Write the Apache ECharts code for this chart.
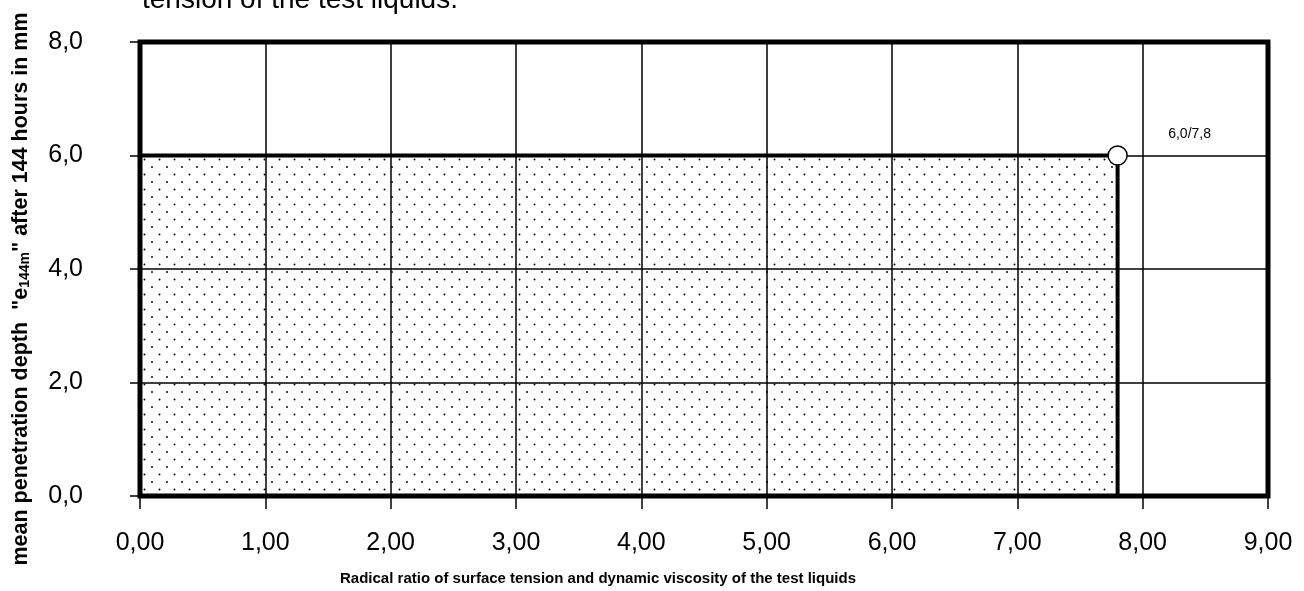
<!DOCTYPE html>
<html>
<head>
<meta charset="utf-8">
<script src="https://cdn.jsdelivr.net/npm/echarts@6/dist/echarts.min.js"></script>
<style>html,body{margin:0;padding:0;background:#fff;}#chart{width:1304px;height:591px;}</style>
</head>
<body>
<div id="chart"></div>
<script>
// ---- data ----
var regionX = [0, 7.8, 7.8];
var regionY = [6, 6, 0];
var pointX = 7.8;
var pointY = 6.0;
var pointLabel = '6,0/7,8';
var xName = 'Radical ratio of surface tension and dynamic viscosity of the test liquids';
var topText = 'tension of the test liquids.';

var FONT = 'Arial, "Liberation Sans", sans-serif';

// dotted fill pattern
var tile = document.createElement('canvas');
tile.width = 15; tile.height = 15;
var c = tile.getContext('2d');
c.fillStyle = '#000';
c.beginPath(); c.arc(2, 2, 0.95, 0, Math.PI * 2); c.fill();
c.beginPath(); c.arc(9.5, 9.5, 0.95, 0, Math.PI * 2); c.fill();

var regionData = regionX.map(function (x, i) { return [x, regionY[i]]; });

var chart = echarts.init(document.getElementById('chart'));
chart.setOption({
  backgroundColor: '#fff',
  animation: false,
  textStyle: { fontFamily: FONT },
  graphic: [{
    type: 'text', x: 142, y: 14,
    style: { text: topText, fontSize: 28, fill: '#000', fontFamily: FONT, verticalAlign: 'bottom' }
  }],
  grid: {
    left: 140, right: 36, top: 42, bottom: 88,
    show: true, borderColor: '#000', borderWidth: 5, backgroundColor: 'transparent'
  },
  xAxis: {
    type: 'value', min: 0, max: 9, interval: 1,
    name: xName, nameLocation: 'middle', nameGap: 75,
    nameTextStyle: { fontSize: 15, fontWeight: 'bold', color: '#000', fontFamily: FONT,
      padding: [0, 212, 0, 0] },
    axisLine: { show: false },
    axisTick: { show: true, length: 13, lineStyle: { color: '#000', width: 1.5 } },
    axisLabel: { fontSize: 25, color: '#000', margin: 35, fontFamily: FONT,
      formatter: function (v) { return v.toFixed(2).replace('.', ','); } },
    splitLine: { show: true, lineStyle: { color: '#000', width: 1.5 } }
  },
  yAxis: {
    type: 'value', min: 0, max: 8, interval: 2,
    name: 'mean penetration depth  "e{sub|144m}" after 144 hours in mm',
    nameLocation: 'middle', nameGap: 108, nameRotate: 90,
    nameTextStyle: { fontSize: 21.5, fontWeight: 'bold', color: '#000', fontFamily: FONT,
      padding: [0, 40, 0, 0],
      rich: { sub: { fontSize: 14, fontWeight: 'bold', color: '#000', fontFamily: FONT, padding: [8, 0, 0, 0] } } },
    axisLine: { show: false },
    axisTick: { show: true, length: 10, lineStyle: { color: '#000', width: 1.5 } },
    axisLabel: { fontSize: 25, color: '#000', margin: 57, fontFamily: FONT,
      formatter: function (v) { return v.toFixed(1).replace('.', ','); } },
    splitLine: { show: true, lineStyle: { color: '#000', width: 1.5 } }
  },
  series: [{
    type: 'line',
    data: regionData,
    symbol: 'none',
    lineStyle: { color: '#000', width: 4 },
    areaStyle: { color: { image: tile, repeat: 'repeat' }, opacity: 1 },
    z: 3
  }, {
    type: 'scatter',
    data: [[pointX, pointY]],
    symbol: 'circle', symbolSize: 19,
    itemStyle: { color: '#fff', borderColor: '#000', borderWidth: 1.5, opacity: 1 },
    label: { show: true, formatter: pointLabel, position: 'inside', offset: [72, -21],
      align: 'center', verticalAlign: 'middle',
      fontSize: 14, color: '#000', fontFamily: FONT },
    z: 5
  }]
});
</script>
</body>
</html>
